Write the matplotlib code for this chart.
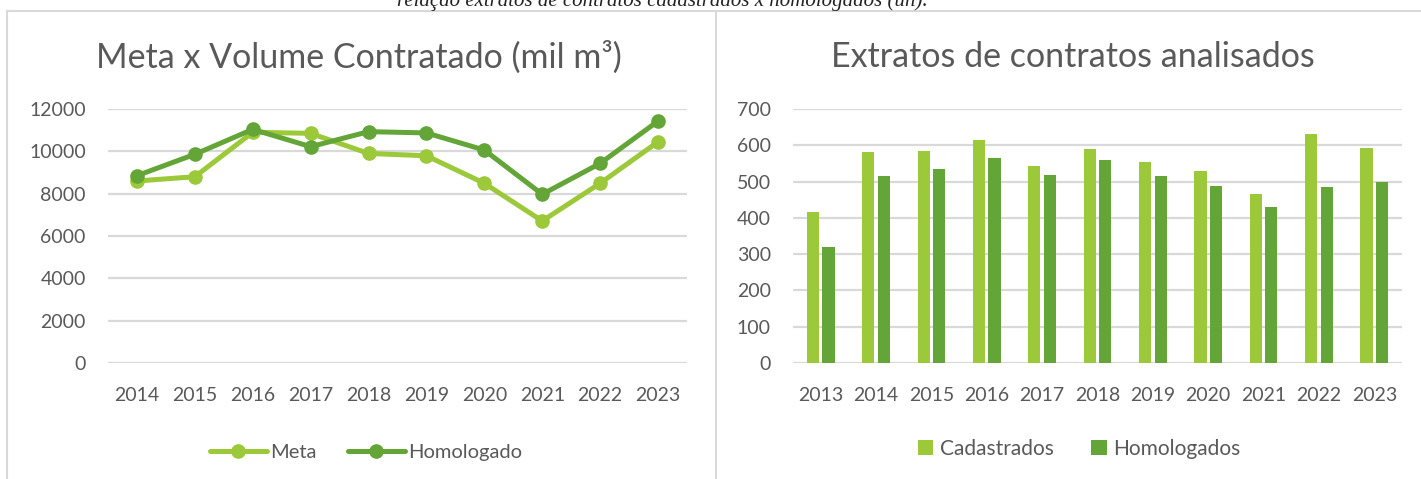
import numpy as np
import matplotlib as mpl
mpl.use('Agg')
import matplotlib.pyplot as plt
from matplotlib.lines import Line2D

mpl.rcParams['font.family'] = 'Lato'

# data
anos_linha = ['2014', '2015', '2016', '2017', '2018', '2019', '2020', '2021', '2022', '2023']
meta = [8600, 8800, 10900, 10850, 9900, 9790, 8490, 6710, 8490, 10450]
homologado = [8850, 9860, 11040, 10220, 10930, 10870, 10060, 7970, 9430, 11430]

anos_barra = ['2013', '2014', '2015', '2016', '2017', '2018', '2019', '2020', '2021', '2022', '2023']
cadastrados = [417, 582, 585, 615, 542, 589, 553, 529, 465, 631, 593]
homologados = [319, 516, 534, 564, 518, 559, 515, 488, 430, 485, 499]

verde_claro = '#9BC93A'
verde_escuro = '#63A537'
cinza_txt = '#595959'
cinza_grade = '#D9D9D9'

W, H = 1421, 479


def px_axes(fig, x0, y0, x1, y1):
    """Axes from pixel box (top-left origin)."""
    return fig.add_axes([x0 / W, (H - y1) / H, (x1 - x0) / W, (y1 - y0) / H])


def style(ax):
    for s in ax.spines.values():
        s.set_visible(False)
    ax.grid(axis='y', color=cinza_grade, linewidth=1.6)
    ax.set_axisbelow(True)
    ax.tick_params(axis='both', length=0, colors=cinza_txt, labelsize=14)
    ax.tick_params(axis='x', pad=17)
    ax.tick_params(axis='y', pad=16)


fig = plt.figure(figsize=(W / 100, H / 100), dpi=100)

# caption cut at the top of the page (it is cut in the source too)
fig.text(0.466, 1 - 6 / H, 'relação extratos de contratos cadastrados x homologados (un).',
         ha='center', va='baseline', fontsize=15, style='italic',
         family='Liberation Serif', color='#222222')

# chart frames
fig.add_artist(Line2D([7 / W, 1], [1 - 10.5 / H] * 2, color=cinza_grade, lw=1.5))
fig.add_artist(Line2D([7 / W] * 2, [0, 1 - 10.5 / H], color=cinza_grade, lw=1.5))
fig.add_artist(Line2D([716.5 / W] * 2, [0, 1 - 10.5 / H], color=cinza_grade, lw=1.5))

# left: lines
ax1 = px_axes(fig, 108, 109, 687, 363)
style(ax1)
x1 = np.arange(len(anos_linha))
ax1.plot(x1, meta, color=verde_claro, lw=3.6, marker='o', ms=9.5,
         solid_capstyle='round', label='Meta')
ax1.plot(x1, homologado, color=verde_escuro, lw=3.6, marker='o', ms=9.5,
         solid_capstyle='round', label='Homologado')
ax1.set_xlim(-0.5, len(anos_linha) - 0.5)
ax1.set_ylim(0, 12000)
ax1.set_yticks(np.arange(0, 12001, 2000))
ax1.set_xticks(x1)
ax1.set_xticklabels(anos_linha)
fig.text(359 / W, 1 - 57 / H, 'Meta x Volume Contratado (mil m³)', ha='center', va='center',
         fontsize=24.5, color=cinza_txt)
ax1.legend(loc='center', bbox_to_anchor=(366 / W, 1 - 452 / H), bbox_transform=fig.transFigure,
           ncol=2, frameon=False, fontsize=14.5, handlelength=2.8, handletextpad=0.15,
           columnspacing=1.6, labelcolor=cinza_txt)

# right: bars
ax2 = px_axes(fig, 793, 109, 1402, 363)
style(ax2)
x2 = np.arange(len(anos_barra))
bw = 0.22
ax2.bar(x2 - 0.14, cadastrados, bw, color=verde_claro, label='Cadastrados')
ax2.bar(x2 + 0.14, homologados, bw, color=verde_escuro, label='Homologados')
ax2.set_xlim(-0.5, len(anos_barra) - 0.5)
ax2.set_ylim(0, 700)
ax2.set_yticks(np.arange(0, 701, 100))
ax2.set_xticks(x2)
ax2.set_xticklabels(anos_barra)
fig.text(1073 / W, 1 - 57 / H, 'Extratos de contratos analisados', ha='center', va='center',
         fontsize=24.5, color=cinza_txt)
ax2.legend(loc='center', bbox_to_anchor=(1079 / W, 1 - 449 / H), bbox_transform=fig.transFigure,
           ncol=2, frameon=False, fontsize=15, handlelength=0.75, handleheight=0.75,
           handletextpad=0.3, columnspacing=1.8, labelcolor=cinza_txt)

plt.savefig('out.png', dpi=100)
